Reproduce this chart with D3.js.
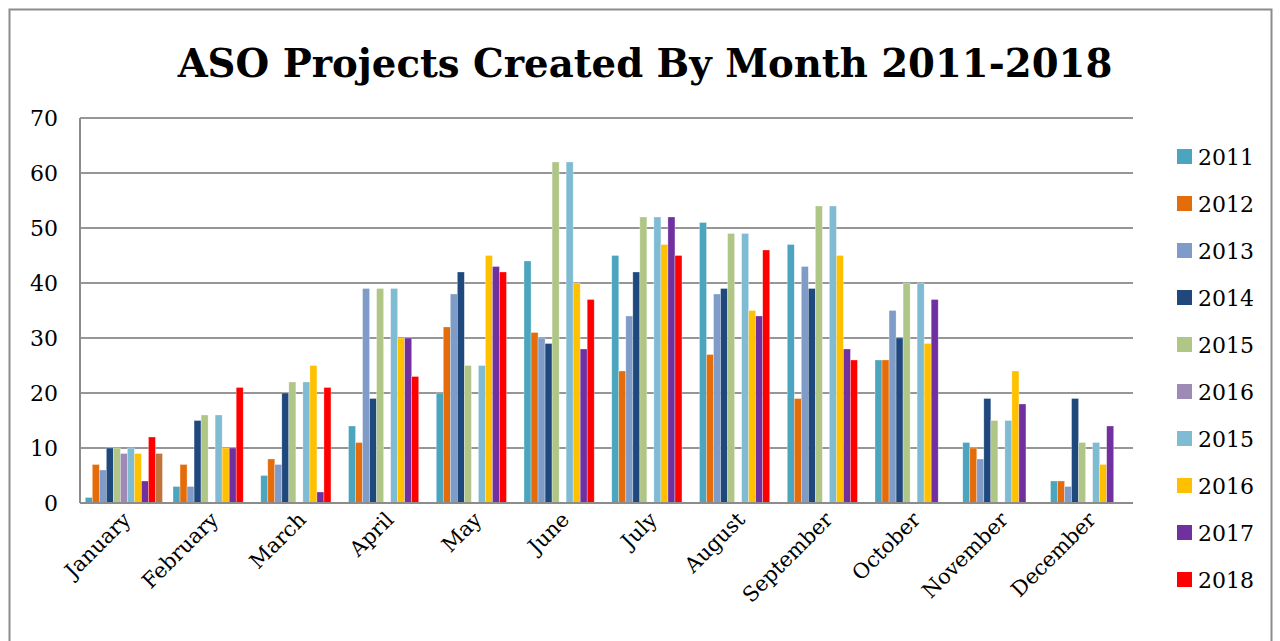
<!DOCTYPE html>
<html>
<head>
<meta charset="utf-8">
<script src="https://cdn.jsdelivr.net/npm/d3@7"></script>
<style>
  body { margin: 0; background: #fff; }
  svg text { font-family: "DejaVu Serif", "Liberation Serif", serif; }
</style>
</head>
<body>
<div id="grafico"></div>
<script>
// Datos del gráfico
const meses = ["January", "February", "March", "April", "May", "June", "July",
  "August", "September", "October", "November", "December"];
const etiquetasSeries = ["2011", "2012", "2013", "2014", "2015", "2016", "2015", "2016", "2017", "2018", ""];
const coloresSeries = ["#4BA5BE", "#E46C0A", "#7F9BC8", "#1F497D", "#AFC687", "#9D8AB5",
  "#7FBBD2", "#FFC000", "#7030A0", "#FF0000", "#C0733A"];
const valores = [
  [1, 3, 5, 14, 20, 44, 45, 51, 47, 26, 11, 4],
  [7, 7, 8, 11, 32, 31, 24, 27, 19, 26, 10, 4],
  [6, 3, 7, 39, 38, 30, 34, 38, 43, 35, 8, 3],
  [10, 15, 20, 19, 42, 29, 42, 39, 39, 30, 19, 19],
  [10, 16, 22, 39, 25, 62, 52, 49, 54, 40, 15, 11],
  [9, 0, 0, 0, 0, 0, 0, 0, 0, 0, 0, 0],
  [10, 16, 22, 39, 25, 62, 52, 49, 54, 40, 15, 11],
  [9, 10, 25, 30, 45, 40, 47, 35, 45, 29, 24, 7],
  [4, 10, 2, 30, 43, 28, 52, 34, 28, 37, 18, 14],
  [12, 21, 21, 23, 42, 37, 45, 46, 26, 0, 0, 0],
  [9, 0, 0, 0, 0, 0, 0, 0, 0, 0, 0, 0]
];
const ticksY = [0, 10, 20, 30, 40, 50, 60, 70];

const ancho = 1280, alto = 641;
const margen = { izq: 80, der: 1133, sup: 118, inf: 503 };

const svg = d3.select("#grafico").append("svg")
  .attr("width", ancho).attr("height", alto);

// Borde exterior del gráfico
svg.append("rect")
  .attr("x", 9.5).attr("y", 9.5)
  .attr("width", 1262).attr("height", 660)
  .attr("fill", "none").attr("stroke", "#8c8c8c").attr("stroke-width", 2);

// Título
const titulo = svg.append("text")
  .attr("x", 645).attr("y", 77)
  .attr("text-anchor", "middle")
  .attr("font-weight", "bold")
  .attr("font-size", 40)
  .text("ASO Projects Created By Month 2011-2018");
const largoTitulo = titulo.node().getComputedTextLength();
titulo.attr("font-size", 40 * 935 / largoTitulo);

// Escalas
const y = d3.scaleLinear().domain([0, 70]).range([margen.inf, margen.sup]);
const x0 = d3.scaleBand().domain(meses).range([margen.izq, margen.der]).padding(0);
const x1 = d3.scaleBand().domain(d3.range(valores.length))
  .range([0, x0.bandwidth()]).paddingInner(0).paddingOuter(0.75);

// Líneas de cuadrícula
svg.append("g").selectAll("line")
  .data(ticksY.filter(d => d > 0))
  .join("line")
  .attr("x1", margen.izq).attr("x2", margen.der)
  .attr("y1", d => y(d)).attr("y2", d => y(d))
  .attr("stroke", "#969696").attr("stroke-width", 2);

// Etiquetas del eje Y
svg.append("g").selectAll("text")
  .data(ticksY)
  .join("text")
  .attr("x", 58).attr("y", d => y(d) + 8)
  .attr("text-anchor", "end")
  .attr("font-size", 22)
  .text(d => d);

// Barras
svg.append("g").selectAll("g")
  .data(valores)
  .join("g")
  .attr("fill", (d, i) => coloresSeries[i])
  .each(function (serie, i) {
    d3.select(this).selectAll("rect")
      .data(serie.map((v, j) => ({ mes: meses[j], v })).filter(d => d.v > 0))
      .join("rect")
      .attr("x", d => x0(d.mes) + x1(i))
      .attr("y", d => y(d.v))
      .attr("width", x1.bandwidth())
      .attr("height", d => y(0) - y(d.v))
      .attr("stroke", "#ffffff").attr("stroke-opacity", 0.5).attr("stroke-width", 0.6);
  });

// Ejes (líneas)
svg.append("line")
  .attr("x1", margen.izq).attr("x2", margen.izq)
  .attr("y1", margen.sup).attr("y2", margen.inf)
  .attr("stroke", "#8c8c8c").attr("stroke-width", 2);
svg.append("line")
  .attr("x1", margen.izq).attr("x2", margen.der)
  .attr("y1", margen.inf).attr("y2", margen.inf)
  .attr("stroke", "#8c8c8c").attr("stroke-width", 2);

// Etiquetas del eje X
svg.append("g").selectAll("text")
  .data(meses)
  .join("text")
  .attr("text-anchor", "end")
  .attr("font-size", 21)
  .attr("transform", d => `translate(${x0(d) + x0.bandwidth() / 2 + 8},${margen.inf + 18}) rotate(-45)`)
  .text(d => d);

// Leyenda
const leyenda = svg.append("g").selectAll("g")
  .data(etiquetasSeries.slice(0, 10))
  .join("g")
  .attr("transform", (d, i) => `translate(1177,${149 + i * 47})`);
leyenda.append("rect")
  .attr("width", 15).attr("height", 15)
  .attr("fill", (d, i) => coloresSeries[i]);
leyenda.append("text")
  .attr("x", 21).attr("y", 16)
  .attr("font-size", 22)
  .text(d => d);
</script>
</body>
</html>
